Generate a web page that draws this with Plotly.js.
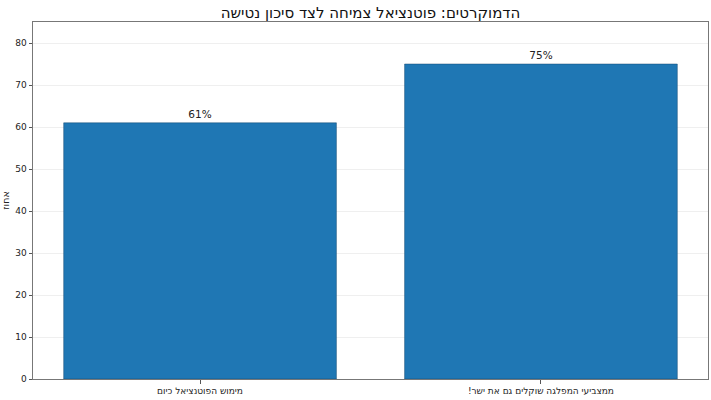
<!DOCTYPE html>
<html>
<head>
<meta charset="utf-8">
<script src="https://cdn.plot.ly/plotly-3.0.1.min.js"></script>
<style>
  html, body { margin: 0; padding: 0; background: #fff; }
  #chart { width: 711px; height: 400px; }
</style>
</head>
<body>
<div id="chart"></div>
<script>
// values
var categories = ['מימוש הפוטנציאל כיום', 'ממצביעי המפלגה שוקלים גם את ישר!']
var percents = [61, 75]
var tickVals = [0, 10, 20, 30, 40, 50, 60, 70, 80]

var chartTitle = 'הדמוקרטים: פוטנציאל צמיחה לצד סיכון נטישה'
var yLabel = 'אחוז'

// RLM at the end so trailing punctuation stays on the left like in RTL text
var tickText = categories.map(function (c) { return c + '\u200F' })

var data = [{
    type: 'bar',
    x: categories,
    y: percents,
    text: percents.map(function (v) { return v + '%' }),
    textposition: 'outside',
    textfont: { family: 'DejaVu Sans', size: 10.5, color: '#222' },
    cliponaxis: false,
    marker: {
        color: '#1f77b4',
        line: { color: 'rgba(20,70,110,0.6)', width: 0.8 }
    },
    hoverinfo: 'none'
}]

var layout = {
    width: 711,
    height: 400,
    margin: { l: 33, r: 3, t: 22, b: 21 },
    paper_bgcolor: '#fff',
    plot_bgcolor: '#fff',
    font: { family: 'DejaVu Sans', size: 9, color: '#222' },
    showlegend: false,
    bargap: 0.2,
    title: {
        text: chartTitle,
        font: { family: 'DejaVu Sans', size: 15, color: '#111' },
        xref: 'paper',
        x: 0.5,
        xanchor: 'center',
        y: 0.982,
        yanchor: 'top'
    },
    xaxis: {
        type: 'category',
        range: [-0.49, 1.49],
        tickvals: categories,
        ticktext: tickText,
        showgrid: false,
        zeroline: false,
        showline: true,
        mirror: true,
        linecolor: '#777',
        linewidth: 1,
        ticks: 'outside',
        ticklen: 3.5,
        tickcolor: '#555',
        tickfont: { family: 'DejaVu Sans', size: 9, color: '#222' }
    },
    yaxis: {
        range: [0, 85],
        tickvals: tickVals,
        showgrid: true,
        gridcolor: 'rgba(190,190,190,0.25)',
        gridwidth: 1,
        layer: 'above traces',
        zeroline: false,
        showline: true,
        mirror: true,
        linecolor: '#777',
        linewidth: 1,
        ticks: 'outside',
        ticklen: 3.5,
        tickcolor: '#555',
        tickfont: { family: 'DejaVu Sans', size: 9, color: '#222' },
        title: {
            text: yLabel,
            font: { family: 'DejaVu Sans', size: 9.5, color: '#222' },
            standoff: 6
        }
    }
}

Plotly.newPlot('chart', data, layout, { displayModeBar: false, staticPlot: true })
</script>
</body>
</html>
